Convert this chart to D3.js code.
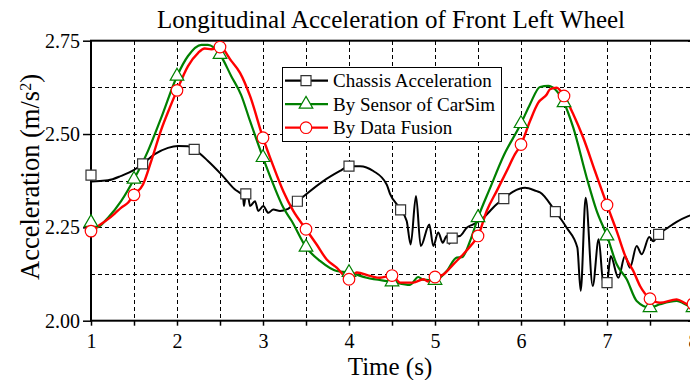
<!DOCTYPE html>
<html>
<head>
<meta charset="utf-8">
<script src="https://cdn.jsdelivr.net/npm/d3@7/dist/d3.min.js"></script>
<style>
  html, body { margin: 0; padding: 0; background: #fff; }
  svg { display: block; }
  text { font-family: "Liberation Serif", "Times New Roman", serif; fill: #000; }
</style>
</head>
<body>
<svg id="chart" width="690" height="380"></svg>
<script>
// Chassis acceleration (m/s^2) over time (s)
const chassisT = [1.000, 1.010, 1.198, 1.352, 1.508, 1.600, 1.741, 1.895, 2.012, 2.128, 2.200, 2.360, 2.515, 2.671, 2.767, 2.779, 2.797, 2.817, 2.849, 2.907, 2.945, 3.003, 3.062, 3.120, 3.198, 3.276, 3.400, 3.701, 3.895, 4.000, 4.128, 4.283, 4.438, 4.477, 4.593, 4.671, 4.717, 4.779, 4.834, 4.934, 4.980, 5.038, 5.090, 5.136, 5.166, 5.206, 5.291, 5.369, 5.445, 5.543, 5.640, 5.717, 5.806, 5.910, 6.047, 6.183, 6.221, 6.395, 6.531, 6.655, 6.694, 6.752, 6.834, 6.903, 6.960, 7.000, 7.043, 7.132, 7.209, 7.267, 7.345, 7.403, 7.492, 7.538, 7.597, 7.694, 7.810, 7.945, 8.000];
const chassisV = [2.390, 2.373, 2.376, 2.388, 2.405, 2.420, 2.446, 2.463, 2.468, 2.467, 2.459, 2.428, 2.392, 2.352, 2.334, 2.307, 2.338, 2.349, 2.307, 2.320, 2.294, 2.307, 2.289, 2.298, 2.294, 2.298, 2.320, 2.374, 2.401, 2.414, 2.414, 2.401, 2.365, 2.340, 2.300, 2.267, 2.204, 2.334, 2.200, 2.258, 2.200, 2.236, 2.209, 2.227, 2.206, 2.224, 2.227, 2.249, 2.258, 2.271, 2.294, 2.312, 2.328, 2.346, 2.356, 2.347, 2.344, 2.294, 2.249, 2.196, 2.080, 2.329, 2.093, 2.218, 2.095, 2.102, 2.173, 2.115, 2.173, 2.142, 2.200, 2.178, 2.224, 2.213, 2.231, 2.247, 2.265, 2.280, 2.285];

// Acceleration reported by the CarSim sensor
const carsimT = [1.000, 1.062, 1.198, 1.352, 1.500, 1.663, 1.817, 2.000, 2.128, 2.283, 2.360, 2.500, 2.631, 2.745, 2.849, 3.000, 3.120, 3.236, 3.334, 3.500, 3.663, 3.857, 4.000, 4.206, 4.500, 4.709, 4.806, 4.860, 5.000, 5.136, 5.252, 5.314, 5.407, 5.500, 5.640, 5.794, 6.000, 6.105, 6.221, 6.317, 6.395, 6.500, 6.608, 6.764, 6.880, 7.000, 7.113, 7.229, 7.345, 7.500, 7.616, 7.810, 7.945, 8.000];
const carsimV = [2.263, 2.249, 2.276, 2.321, 2.379, 2.455, 2.544, 2.655, 2.709, 2.739, 2.739, 2.713, 2.655, 2.605, 2.535, 2.437, 2.365, 2.303, 2.267, 2.197, 2.160, 2.133, 2.129, 2.115, 2.104, 2.096, 2.117, 2.110, 2.108, 2.133, 2.169, 2.170, 2.213, 2.276, 2.355, 2.440, 2.528, 2.580, 2.626, 2.629, 2.620, 2.584, 2.517, 2.383, 2.294, 2.227, 2.151, 2.111, 2.053, 2.035, 2.044, 2.053, 2.040, 2.035];

// Acceleration estimated by data fusion
const fusionT = [1.000, 1.081, 1.198, 1.276, 1.352, 1.430, 1.500, 1.605, 1.701, 1.817, 1.915, 2.000, 2.128, 2.244, 2.322, 2.399, 2.500, 2.631, 2.733, 2.849, 3.000, 3.120, 3.236, 3.352, 3.500, 3.624, 3.741, 3.857, 4.000, 4.090, 4.244, 4.360, 4.500, 4.593, 4.748, 4.864, 4.919, 5.000, 5.097, 5.213, 5.329, 5.427, 5.500, 5.601, 5.717, 5.834, 5.930, 6.000, 6.105, 6.201, 6.299, 6.337, 6.415, 6.500, 6.608, 6.724, 6.860, 7.000, 7.113, 7.229, 7.306, 7.384, 7.500, 7.616, 7.810, 7.945, 8.000];
const fusionV = [2.240, 2.253, 2.272, 2.287, 2.303, 2.316, 2.337, 2.365, 2.428, 2.512, 2.570, 2.617, 2.682, 2.717, 2.729, 2.727, 2.733, 2.696, 2.664, 2.602, 2.490, 2.414, 2.347, 2.294, 2.245, 2.204, 2.164, 2.142, 2.111, 2.129, 2.120, 2.115, 2.121, 2.102, 2.102, 2.111, 2.105, 2.117, 2.124, 2.151, 2.178, 2.204, 2.227, 2.294, 2.347, 2.401, 2.446, 2.472, 2.535, 2.584, 2.606, 2.620, 2.624, 2.602, 2.553, 2.490, 2.401, 2.310, 2.240, 2.164, 2.133, 2.093, 2.059, 2.048, 2.057, 2.044, 2.045];

// Symbol positions along each series (s)
const chassisMarkT = [1.0, 1.6, 2.2, 2.8, 3.4, 4.0, 4.6, 5.2, 5.8, 6.4, 7.0, 7.6];
const carsimMarkT  = [1.0, 1.5, 2.0, 2.5, 3.0, 3.5, 4.0, 4.5, 5.0, 5.5, 6.0, 6.5, 7.0, 7.5, 8.0];
const fusionMarkT  = [1.0, 1.5, 2.0, 2.5, 3.0, 3.5, 4.0, 4.5, 5.0, 5.5, 6.0, 6.5, 7.0, 7.5, 8.0];

// Axis ticks
const xTickLabels = [1, 2, 3, 4, 5, 6, 7, 8];
const xMinorTicks = [1.5, 2.5, 3.5, 4.5, 5.5, 6.5, 7.5];
const yTickLabels = [2.00, 2.25, 2.50, 2.75];
const yMinorTicks = [2.125, 2.375, 2.625];

const seriesNames = ["Chassis Acceleration", "By Sensor of CarSim", "By Data Fusion"];

const svg = d3.select("#chart");
const plotLeft = 91, plotRight = 693, plotTop = 40.7, plotBottom = 320.7;

const x = d3.scaleLinear().domain([1, 8]).range([plotLeft, plotRight]);
const y = d3.scaleLinear().domain([2.0, 2.75]).range([plotBottom, plotTop]);

// dashed grid
const grid = svg.append("g").attr("stroke", "#000").attr("stroke-width", 1)
  .attr("stroke-dasharray", "4,3").attr("shape-rendering", "crispEdges");
grid.selectAll("line.v").data(xTickLabels.concat(xMinorTicks).filter(d => d > 1 && d < 8))
  .join("line").attr("class", "v")
  .attr("x1", d => Math.round(x(d)) + 0.5).attr("x2", d => Math.round(x(d)) + 0.5)
  .attr("y1", plotTop).attr("y2", plotBottom);
grid.selectAll("line.h").data(yTickLabels.concat(yMinorTicks).filter(d => d > 2 && d < 2.75))
  .join("line").attr("class", "h")
  .attr("y1", d => Math.round(y(d)) + 0.5).attr("y2", d => Math.round(y(d)) + 0.5)
  .attr("x1", plotLeft).attr("x2", plotRight);

// axes
const fmtY = d3.format(".2f");
const xAxis = d3.axisBottom(x).tickValues(xTickLabels.concat(xMinorTicks).sort(d3.ascending))
  .tickSize(5).tickPadding(8)
  .tickFormat(d => xTickLabels.includes(d) ? String(d) : "");
const yAxis = d3.axisLeft(y).tickValues(yTickLabels).tickSize(8).tickPadding(3).tickFormat(fmtY);

const gx = svg.append("g").attr("transform", `translate(0,${plotBottom})`).call(xAxis);
const gy = svg.append("g").attr("transform", `translate(${plotLeft},0)`).call(yAxis);
[gx, gy].forEach(g => {
  g.select(".domain").remove();
  g.selectAll(".tick line").attr("stroke", "#000").attr("stroke-width", 1.5);
  g.selectAll(".tick text").style("font-family", "Liberation Serif, serif").style("font-size", "20px").attr("fill", "#000");
});
const gr = svg.append("g").attr("transform", `translate(${plotRight},0)`)
  .call(d3.axisRight(y).tickValues(yTickLabels).tickSize(-5).tickFormat(""));
gr.select(".domain").remove();
gr.selectAll(".tick line").attr("stroke", "#000").attr("stroke-width", 1.5);

// frame
svg.append("rect").attr("x", plotLeft).attr("y", plotTop).attr("width", plotRight - plotLeft).attr("height", plotBottom - plotTop)
  .attr("fill", "none").attr("stroke", "#000").attr("stroke-width", 2);

// series
const line = d3.line().x(d => x(d[0])).y(d => y(d[1])).curve(d3.curveMonotoneX);
const zip = (ts, vs) => ts.map((t, i) => [t, vs[i]]);
const chassis = zip(chassisT, chassisV);
const carsim = zip(carsimT, carsimV);
const fusion = zip(fusionT, fusionV);

const plot = svg.append("g");
plot.append("path").datum(chassis).attr("d", line).attr("fill", "none").attr("stroke", "#000").attr("stroke-width", 2);
plot.append("path").datum(carsim).attr("d", line).attr("fill", "none").attr("stroke", "#008000").attr("stroke-width", 2.2);
plot.append("path").datum(fusion).attr("d", line).attr("fill", "none").attr("stroke", "#ff0000").attr("stroke-width", 2.4);

// value of a series at time t (linear between samples)
function valueAt(ts, vs, t) {
  const i = d3.bisectLeft(ts, t);
  if (i <= 0) return vs[0];
  if (i >= ts.length) return vs[vs.length - 1];
  const t0 = ts[i - 1], t1 = ts[i];
  return vs[i - 1] + (vs[i] - vs[i - 1]) * (t - t0) / (t1 - t0);
}

const squareSym = d3.symbol().type(d3.symbolSquare).size(100);
const triSym = d3.symbol().type(d3.symbolTriangle).size(80);

function drawMarkers(g, type, ts, vs, mts) {
  const pts = mts.map(t => [x(t), y(valueAt(ts, vs, t))]);
  if (type === "square") {
    g.selectAll(null).data(pts).join("path").attr("d", squareSym)
      .attr("transform", d => `translate(${d[0]},${d[1]})`)
      .attr("fill", "#fff").attr("stroke", "#333").attr("stroke-width", 1.2);
  } else if (type === "triangle") {
    g.selectAll(null).data(pts).join("path").attr("d", triSym)
      .attr("transform", d => `translate(${d[0]},${d[1]})`)
      .attr("fill", "#fff").attr("stroke", "#008000").attr("stroke-width", 1.2);
  } else {
    g.selectAll(null).data(pts).join("circle").attr("cx", d => d[0]).attr("cy", d => d[1]).attr("r", 5.8)
      .attr("fill", "#fff").attr("stroke", "#ff0000").attr("stroke-width", 1.2);
  }
}
drawMarkers(plot.append("g"), "square", chassisT, chassisV, chassisMarkT);
drawMarkers(plot.append("g"), "triangle", carsimT, carsimV, carsimMarkT);
drawMarkers(plot.append("g"), "circle", fusionT, fusionV, fusionMarkT);

// legend
const lg = svg.append("g");
lg.append("rect").attr("x", 282.5).attr("y", 67.5).attr("width", 219).attr("height", 74)
  .attr("fill", "#fff").attr("stroke", "#000").attr("stroke-width", 1);
const legendRows = [
  { name: seriesNames[0], color: "#000", type: "square" },
  { name: seriesNames[1], color: "#008000", type: "triangle" },
  { name: seriesNames[2], color: "#ff0000", type: "circle" }
];
legendRows.forEach((r, i) => {
  const yy = 80.7 + i * 23.5;
  lg.append("line").attr("x1", 285).attr("x2", 328).attr("y1", yy).attr("y2", yy)
    .attr("stroke", r.color).attr("stroke-width", 2.2);
  if (r.type === "square") {
    lg.append("path").attr("d", squareSym).attr("transform", `translate(306,${yy})`)
      .attr("fill", "#fff").attr("stroke", "#333").attr("stroke-width", 1.2);
  } else if (r.type === "triangle") {
    lg.append("path").attr("d", triSym).attr("transform", `translate(306,${yy})`)
      .attr("fill", "#fff").attr("stroke", "#008000").attr("stroke-width", 1.2);
  } else {
    lg.append("circle").attr("cx", 306).attr("cy", yy).attr("r", 5.8)
      .attr("fill", "#fff").attr("stroke", "#ff0000").attr("stroke-width", 1.2);
  }
  lg.append("text").attr("x", 333).attr("y", yy + 6.5).style("font-size", "19px").text(r.name);
});

// titles
svg.append("text").attr("x", 391).attr("y", 28).attr("text-anchor", "middle")
  .style("font-size", "25px").text("Longitudinal Acceleration of Front Left Wheel");
svg.append("text").attr("x", 390).attr("y", 375).attr("text-anchor", "middle")
  .style("font-size", "25px").text("Time (s)");
const yl = svg.append("text").attr("transform", "translate(39,177) rotate(-90)").attr("text-anchor", "middle")
  .style("font-size", "26.5px");
yl.append("tspan").text("Acceleration (m/s");
yl.append("tspan").attr("baseline-shift", "super").style("font-size", "16px").text("2");
yl.append("tspan").text(")");
</script>
</body>
</html>
